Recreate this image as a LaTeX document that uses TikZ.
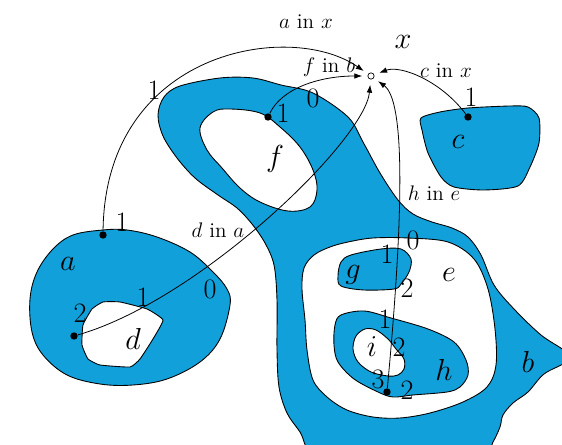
\documentclass[tikz,border=0pt]{standalone}
\usetikzlibrary{arrows.meta}
\definecolor{bl}{RGB}{17,160,218}
\begin{document}
\begin{tikzpicture}[x=0.02cm,y=-0.02cm,
  region/.style={fill=bl, draw=black, line width=0.5pt, even odd rule},
  dotnode/.style={circle, fill=black, inner sep=0pt, minimum size=4.2pt},
  xnode/.style={circle, draw=black, fill=white, line width=0.4pt, inner sep=0pt, minimum size=3.6pt},
  lab/.style={font=\fontsize{16}{18}\selectfont, inner sep=0pt},
  clab/.style={font=\fontsize{12}{14}\selectfont, inner sep=0pt},
  conn/.style={line width=0.45pt, -{Latex[length=4.5pt,width=3.2pt]}, shorten >=3pt}]
\useasboundingbox (0,0) rectangle (562,445);
\begin{scope}
\clip (0,0) rectangle (562,445);
% region b with holes f and e
\path[region] plot[smooth cycle, tension=0.55] coordinates {
  (158,115) (164,97) (180,86) (220,78) (253,78) (281,85) (313,93) (348,117)
  (363,142) (380,173) (398,200) (413,214) (432,222) (452,228) (468,237)
  (481,255) (494,285) (514,309) (541,335) (566,352) (566,362) (544,374)
  (528,392) (513,403) (503,415) (500,427) (493,442) (480,462) (400,470)
  (320,462) (300,432) (287,413) (279,387) (277,350) (277,300) (274,265)
  (265,243) (252,224) (237,208) (218,195) (195,178) (177,158) (163,136)}
  plot[smooth cycle, tension=0.6] coordinates {
  (200,128) (213,112) (230,109) (260,113) (280,127) (300,147) (313,170)
  (317,190) (310,207) (288,211) (260,202) (240,188) (222,168) (207,150)}
  plot[smooth cycle, tension=0.55] coordinates {
  (302,289) (304,268) (314,255) (330,247) (348,242) (373,238) (408,238)
  (448,242) (474,259) (488,289) (495,329) (496,365) (487,387) (463,402)
  (430,413) (400,418) (373,417) (347,410) (327,397) (313,380) (307,350) (305,320)};
\end{scope}
% region g
\path[region] plot[smooth cycle, tension=0.55] coordinates {
  (338,276) (341,262) (351,255) (381,249) (401,249) (411,259) (409,272)
  (401,284) (394,289) (364,290) (341,286)};
% region h with hole i
\path[region] plot[smooth cycle, tension=0.55] coordinates {
  (334,345) (335,325) (341,315) (364,311) (391,318) (428,329) (454,342)
  (466,360) (468,375) (460,387) (447,392) (413,395) (393,397) (378,392)
  (354,379) (338,362)}
  plot[smooth cycle, tension=0.55] coordinates {
  (353,349) (356,336) (365,329) (376,330) (388,339) (396,349) (404,359)
  (404,369) (398,375) (388,376) (371,372) (358,362)};
% region a with hole d
\path[region] plot[smooth cycle, tension=0.6] coordinates {
  (103,230) (73,235) (53,249) (37,272) (30,299) (32,332) (43,355) (67,375)
  (100,384) (133,385) (167,379) (200,362) (220,339) (230,305) (227,289)
  (213,272) (190,252) (157,237) (127,230)}
  plot[smooth cycle, tension=0.25] coordinates {
  (83,325) (92,309) (103,302) (120,302) (147,309) (163,320) (153,339)
  (140,359) (130,367) (100,365) (88,359) (82,345)};
% region c
\path[region] plot[smooth cycle, tension=0.45] coordinates {
  (421,118) (440,112) (468,108) (510,106) (528,107) (539,118) (539,143)
  (530,167) (518,186) (484,190) (454,187) (441,177) (428,153) (422,130)};

% nodes
\node[xnode] (xc) at (371,76) {};
\node[dotnode] (adot) at (103,235) {};
\node[dotnode] (fdot) at (268,117) {};
\node[dotnode] (cdot) at (468,117) {};
\node[dotnode] (ddot) at (74,336) {};
\node[dotnode] (hdot) at (387,392) {};

% connectors
\draw[conn] (adot) .. controls (105,50) and (290,20) .. (xc);
\draw[conn] (fdot) .. controls (282,88) and (320,76) .. (xc);
\draw[conn] (cdot) .. controls (440,80) and (400,65) .. (xc);
\draw[conn] (ddot) .. controls (200,300) and (365,140) .. (xc);
\draw[conn] (hdot) .. controls (405,200) and (404,100) .. (xc);

% connector labels
\node[clab] (lax) at (306,22) {$a$ in $x$};
\node[clab] (lfb) at (329,67) {$f$ in $b$};
\node[clab] (lcx) at (446,71) {$c$ in $x$};
\node[clab] (lhe) at (434,193) {$h$ in $e$};
\node[clab] (lda) at (218,230) {$d$ in $a$};

% region labels
\node[lab] (tx) at (403,42) {$x$};
\node[lab] (ta) at (68,264) {$a$};
\node[lab] (td) at (133,339) {$d$};
\node[lab] (tf) at (275,159) {$f$};
\node[lab] (tc) at (458,142) {$c$};
\node[lab] (tg) at (353,275) {$g$};
\node[lab] (te) at (449,275) {$e$};
\node[lab] (ti) at (372,347) {$i$};
\node[lab] (th) at (444,370) {$h$};
\node[lab] (tb) at (528,362) {$b$};

% numbers
\node[lab] (n1) at (154,90) {1};
\node[lab] (n2) at (122,222) {1};
\node[lab] (n3) at (210,289) {0};
\node[lab] (n4) at (143,297) {1};
\node[lab] (n5) at (80,313) {2};
\node[lab] (n6) at (283,113) {1};
\node[lab] (n7) at (313,98) {0};
\node[lab] (n8) at (471,97) {1};
\node[lab] (n9) at (413,240) {0};
\node[lab] (n10) at (387,254) {1};
\node[lab] (n11) at (407,288) {2};
\node[lab] (n12) at (385,319) {1};
\node[lab] (n13) at (399,347) {2};
\node[lab] (n14) at (378,379) {3};
\node[lab] (n15) at (407,390) {2};
\end{tikzpicture}
\end{document}
